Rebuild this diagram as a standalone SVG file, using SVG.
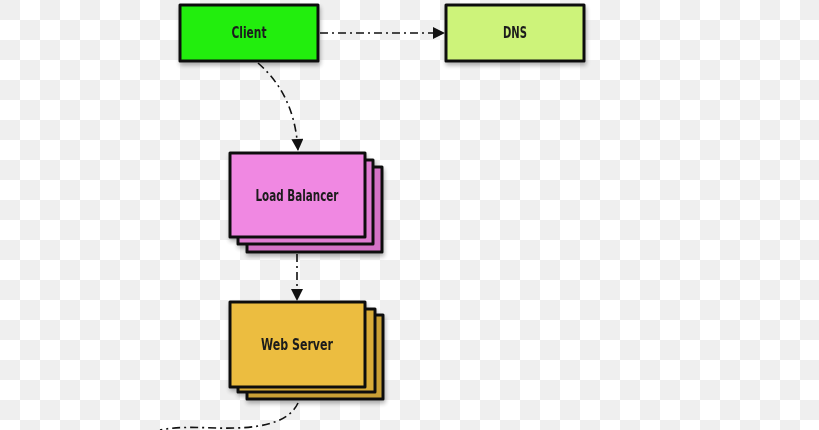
<svg xmlns="http://www.w3.org/2000/svg" width="819" height="430" viewBox="0 0 819 430">
<defs>
<pattern id="checker" width="40" height="40" patternUnits="userSpaceOnUse">
<rect width="40" height="40" fill="#ffffff"/>
<rect x="0" y="0" width="20" height="20" fill="#efefef"/>
<rect x="20" y="20" width="20" height="20" fill="#efefef"/>
</pattern>
<filter id="shadow" x="-10%" y="-10%" width="130%" height="140%">
<feGaussianBlur in="SourceAlpha" stdDeviation="2"/>
<feOffset dx="1" dy="3" result="b"/>
<feComponentTransfer><feFuncA type="linear" slope="0.3"/></feComponentTransfer>
<feMerge><feMergeNode/><feMergeNode in="SourceGraphic"/></feMerge>
</filter>
<marker id="arrowL" viewBox="0 0 10 10" refX="10" refY="5" markerWidth="14" markerHeight="12" markerUnits="userSpaceOnUse" orient="auto">
<path d="M0,0 L10,5 L0,10 Z" fill="#111"/>
</marker>
</defs>
<style>
.box { stroke: #111; stroke-width: 3; stroke-linejoin: round; }
.label { font-family: "Liberation Sans Narrow", "DejaVu Sans Condensed", "Liberation Sans", sans-serif; font-weight: bold; font-size: 15px; fill: #1c1c1c; text-anchor: middle; }
.conn { fill: none; stroke: #111; stroke-width: 1.6; stroke-dasharray: 8 4 2 4; }
</style>
<rect width="819" height="430" fill="url(#checker)"/>

<g id="connectors">
<path class="conn" d="M320,33 L445,33" marker-end="url(#arrowL)"/>
<path class="conn" d="M258,63 C 282,84 296,112 298,151" marker-end="url(#arrowL)"/>
<path class="conn" d="M297,254 L297,301" marker-end="url(#arrowL)"/>
<path class="conn" d="M298,403 C 290,420 268,427 236,428 C 210,429 185,425 160,430"/>
</g>

<g id="client" filter="url(#shadow)">
<rect class="box" x="180" y="5" width="138" height="56" fill="#22ee11"/>
<text class="label" x="249" y="38" textLength="35" lengthAdjust="spacingAndGlyphs">Client</text>
</g>

<g id="dns" filter="url(#shadow)">
<rect class="box" x="446" y="5" width="138" height="56" fill="#cdf37a"/>
<text class="label" x="515" y="38" textLength="24" lengthAdjust="spacingAndGlyphs">DNS</text>
</g>

<g id="load-balancer" filter="url(#shadow)">
<rect class="box" x="247" y="167" width="135" height="85" fill="#d472c6"/>
<rect class="box" x="238" y="160" width="135" height="84" fill="#e07cd2"/>
<rect class="box" x="230" y="153" width="135" height="84" fill="#f088e2"/>
<text class="label" x="297" y="201" textLength="83" lengthAdjust="spacingAndGlyphs">Load Balancer</text>
</g>

<g id="web-server" filter="url(#shadow)">
<rect class="box" x="247" y="315" width="136" height="84" fill="#c9a034"/>
<rect class="box" x="238" y="309" width="137" height="83" fill="#d9ac38"/>
<rect class="box" x="230" y="302" width="135" height="85" fill="#ecbd3f"/>
<text class="label" x="297" y="350" textLength="72" lengthAdjust="spacingAndGlyphs">Web Server</text>
</g>
</svg>
